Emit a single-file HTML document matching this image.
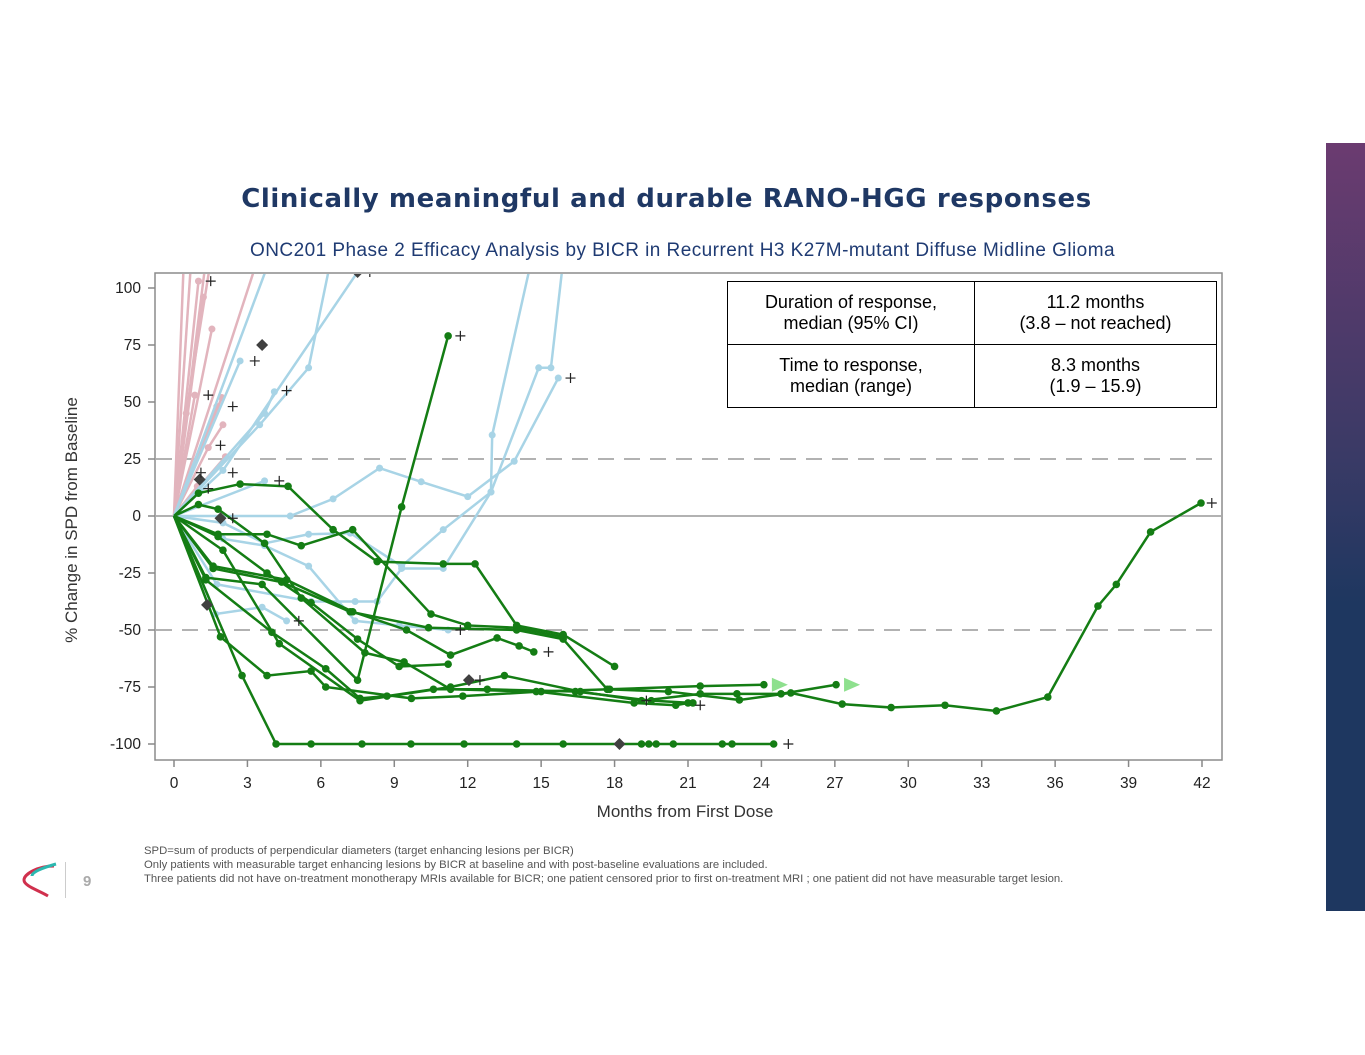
<!DOCTYPE html>
<html><head><meta charset="utf-8"><style>
body{margin:0;width:1365px;height:1055px;background:#fff;position:relative;overflow:hidden;font-family:"Liberation Sans",sans-serif}
.abs{position:absolute}
</style></head><body>
<div class="abs" style="left:1326px;top:143px;width:39px;height:768px;background:linear-gradient(#6b3b70 0%,#3b3a66 40%,#1e3760 60%,#1e3760 100%)"></div>
<div class="abs" style="left:0;width:1333px;top:184px;text-align:center;font-family:'DejaVu Sans',sans-serif;font-size:26px;font-weight:bold;color:#1f3864;letter-spacing:0.6px">Clinically meaningful and durable RANO-HGG responses</div>
<div class="abs" style="left:0;width:1365px;top:240px;text-align:center;font-size:19px;letter-spacing:0.45px;color:#1f3b73">ONC201 Phase 2 Efficacy Analysis by BICR in Recurrent H3 K27M-mutant Diffuse Midline Glioma</div>
<svg class="abs" style="left:0;top:0" width="1365" height="1055">
<defs><clipPath id="cp"><rect x="156" y="274" width="1065" height="485"/></clipPath></defs>
<g id="plot" clip-path="url(#cp)"></g>
<rect x="155" y="273" width="1067" height="487" fill="none" stroke="#8c8c8c" stroke-width="1.5"/>
<g id="axes"></g>
<text x="0" y="0" transform="translate(77,520) rotate(-90)" text-anchor="middle" font-size="17" fill="#333">% Change in SPD from Baseline</text>
<text x="685" y="817" text-anchor="middle" font-size="17" fill="#333">Months from First Dose</text>
</svg>
<table class="abs" style="left:727px;top:281px;width:490px;height:127px;border-collapse:collapse;font-size:18px;text-align:center;background:#fff">
<tr style="height:63px"><td style="border:1.5px solid #000;width:244px">Duration of response,<br>median (95% CI)</td><td style="border:1.5px solid #000">11.2 months<br>(3.8 – not reached)</td></tr>
<tr><td style="border:1.5px solid #000">Time to response,<br>median (range)</td><td style="border:1.5px solid #000">8.3 months<br>(1.9 – 15.9)</td></tr>
</table>
<div class="abs" style="left:144px;top:844px;font-size:11.3px;line-height:14px;color:#555;white-space:nowrap">SPD=sum of products of perpendicular diameters (target enhancing lesions per BICR)<br>Only patients with measurable target enhancing lesions by BICR at baseline and with post-baseline evaluations are included.<br>Three patients did not have on-treatment monotherapy MRIs available for BICR; one patient censored prior to first on-treatment MRI ; one patient did not have measurable target lesion.</div>
<svg class="abs" style="left:18px;top:862px" width="40" height="38">
<path d="M36 4 C20 4 6 12 6 18 C6 24 20 28 30 34" fill="none" stroke="#d0304d" stroke-width="3"/>
<path d="M38 2 C24 6 14 10 14 14" fill="none" stroke="#2bb8b0" stroke-width="3"/>
</svg>
<div class="abs" style="left:65px;top:862px;width:1px;height:36px;background:#ccc"></div>
<div class="abs" style="left:83px;top:873px;font-size:15px;color:#aaa;font-weight:bold">9</div>
<script>
const xTicks=[0,3,6,9,12,15,18,21,24,27,30,33,36,39,42];
const yTicks=[100,75,50,25,0,-25,-50,-75,-100];
const greenSeries=[
[[0,0],[2.78,-70],[4.17,-100],[5.6,-100],[7.68,-100],[9.68,-100],[11.85,-100],[14,-100],[15.9,-100],[19.1,-100],[19.4,-100],[19.7,-100],[20.4,-100],[22.4,-100],[22.8,-100],[24.5,-100]],
[[0,0],[1.6,-23],[4.4,-29],[7.2,-42],[10.4,-49],[14,-50],[15.9,-54],[17.7,-76],[20.2,-77],[23.1,-80.7],[25.2,-77.6],[27.3,-82.5],[29.3,-84],[31.5,-83],[33.6,-85.5],[35.7,-79.4],[37.75,-39.5],[38.5,-30],[39.9,-7],[41.96,5.7]],
[[0,0],[1.3,-27],[3.6,-30],[7.5,-72],[9.3,4],[11.2,79]],
[[0,0],[1,10],[2.7,14],[4.66,13],[6.5,-6],[8.3,-20],[11,-21],[12.3,-21],[14,-48],[15.9,-52],[18,-66]],
[[0,0],[1.8,-8],[3.8,-8],[5.2,-13],[7.3,-6],[10.5,-43],[12,-48],[14,-49],[15.9,-53]],
[[0,0],[1.6,-22],[4.6,-28],[7.3,-42],[9.5,-50],[11.3,-61],[13.2,-53.5],[14.1,-57],[14.7,-59.6]],
[[0,0],[1.8,-9],[3.8,-25],[5.6,-38],[7.5,-54],[9.2,-66],[11.2,-65]],
[[0,0],[1.3,-28],[4,-51],[6.2,-67],[7.6,-80],[8.7,-79],[10.6,-76],[12.8,-76],[16.4,-77],[19.5,-81],[21.2,-82]],
[[0,0],[1.9,-53],[3.8,-70],[5.6,-68],[6.2,-75],[9.7,-80],[11.8,-79],[15,-77],[17.8,-76],[21.5,-74.6],[24.1,-74]],
[[0,0],[2,-15],[4.3,-56],[7.6,-81],[11.3,-75],[13.5,-70],[16.6,-77],[19.1,-81],[21.5,-78],[23,-78],[24.8,-78],[27.05,-74]],
[[0,0],[1,5],[1.8,3],[3.7,-12],[5.2,-36],[7.8,-60],[9.4,-64],[11.3,-76],[14.8,-77],[18.8,-82],[20.5,-83],[21,-82]]
];
const greenArrows=[[24.1,-74],[27.05,-74]];
const blueSeries=[
[[0,0],[3.7,15.4]],
[[0,0],[2.7,68]],
[[0,0],[3.7,45],[4.1,54.5]],
[[0,0],[3.5,40],[5.5,65],[6.4,112]],
[[0,0],[3.9,112]],
[[0,0],[2,20],[7.5,107]],
[[0,0],[4.75,0],[6.5,7.5],[8.4,21],[10.1,15],[12,8.5],[13.9,24],[15.7,60.5]],
[[0,0],[2,-3],[3.7,-12],[5.5,-8],[7.2,-7.5],[9.3,-22],[11,-6],[12.95,10.5],[13,35.5],[14.6,112]],
[[0,0],[1.75,-30],[5.6,-37.5],[7.4,-37.5],[8.3,-37.5],[9.3,-23],[11,-23],[12.95,10.5],[14.9,65],[15.4,65],[15.9,112]],
[[0,0],[1.7,-43],[3.6,-40],[4.6,-46]],
[[0,0],[2,-10],[3.7,-13],[5.5,-22],[7.4,-46],[9.2,-48],[11.2,-50]]
];
const pinkSeries=[
[[0,0],[1,103]],[[0,0],[1.2,96]],[[0,0],[1.55,82]],[[0,0],[1.95,52]],[[0,0],[1.75,48]],
[[0,0],[0.85,53]],[[0,0],[2.1,26]],[[0,0],[0.95,13]],[[0,0],[0.4,112]],[[0,0],[0.7,112]],
[[0,0],[1.3,112]],[[0,0],[3.4,112]],[[0,0],[0.5,45],[1.5,112]],[[0,0],[1.4,30],[2.0,40]]
];
const diamonds=[[1.05,16],[3.6,75],[1.9,-1],[1.35,-39],[12.05,-72],[18.2,-100],[7.5,107]];
const censored=[[1.5,103],[1.4,53],[2.4,48],[1.9,31],[1.1,19],[2.4,19],[1.4,12],[2.4,-1],[3.3,68],[4.6,55],[4.3,15.4],[11.7,79],[16.2,60.5],[11.7,-50],[5.1,-46],[15.3,-59.6],[12.5,-72],[21.5,-83],[19.3,-81],[25.1,-100],[42.4,5.7],[8,107]];
const X=m=>174+m*24.476, Y=p=>516-p*2.28;
const NS='http://www.w3.org/2000/svg';
const plot=document.getElementById('plot'), axes=document.getElementById('axes');
function mk(tag,attrs,parent){const e=document.createElementNS(NS,tag);for(const k in attrs)e.setAttribute(k,attrs[k]);parent.appendChild(e);return e;}
let r0=mk('line',{x1:156,x2:1221,y1:Y(0),y2:Y(0),stroke:'#999','stroke-width':1.5},plot);


[25,-50].forEach(v=>{const l=mk('line',{x1:156,x2:1221,y1:Y(v),y2:Y(v),stroke:'#999','stroke-width':1.5,'stroke-dasharray':'16 10'},plot);

});
function drawSeries(list,color,r,w,name){list.forEach(s=>{
 const pl=mk('polyline',{points:s.map(p=>X(p[0])+','+Y(p[1])).join(' '),fill:'none',stroke:color,'stroke-width':w},plot);
 
 
 s.slice(1).forEach(p=>{const c=mk('circle',{cx:X(p[0]),cy:Y(p[1]),r:r,fill:color},plot);
 
 });
});}
drawSeries(pinkSeries,'#e2b4bd',3.5,2.5,'pink-patient');
drawSeries(blueSeries,'#a8d4e6',3.5,2.5,'blue-patient');
drawSeries(greenSeries,'#147d14',3.8,2.5,'green-patient');
greenArrows.forEach(a=>{const x=X(a[0])+8,y=Y(a[1]);
 const t=mk('polygon',{points:`${x},${y-7} ${x+16},${y} ${x},${y+7}`,fill:'#8ee08e'},plot);
 
 });
diamonds.forEach(d=>{const x=X(d[0]),y=Y(d[1]);
 const t=mk('polygon',{points:`${x},${y-6} ${x+6},${y} ${x},${y+6} ${x-6},${y}`,fill:'#404040'},plot);
 
 });
censored.forEach(c=>{const x=X(c[0]),y=Y(c[1]);
 const p=mk('path',{d:`M${x-5},${y}H${x+5}M${x},${y-5}V${y+5}`,stroke:'#222','stroke-width':1.2},plot);
 
 });
xTicks.forEach(t=>{const x=X(t);
 mk('line',{x1:x,x2:x,y1:760,y2:767,stroke:'#888','stroke-width':1.5},axes);
 const tx=mk('text',{x:x,y:788,'text-anchor':'middle','font-size':15.5,fill:'#222'},axes);tx.textContent=t;
 
 });
yTicks.forEach(t=>{const y=Y(t);
 mk('line',{x1:148,x2:155,y1:y,y2:y,stroke:'#888','stroke-width':1.5},axes);
 const tx=mk('text',{x:141,y:y+5,'text-anchor':'end','font-size':15.5,fill:'#222'},axes);tx.textContent=t;
 
 });
</script>
</body></html>
